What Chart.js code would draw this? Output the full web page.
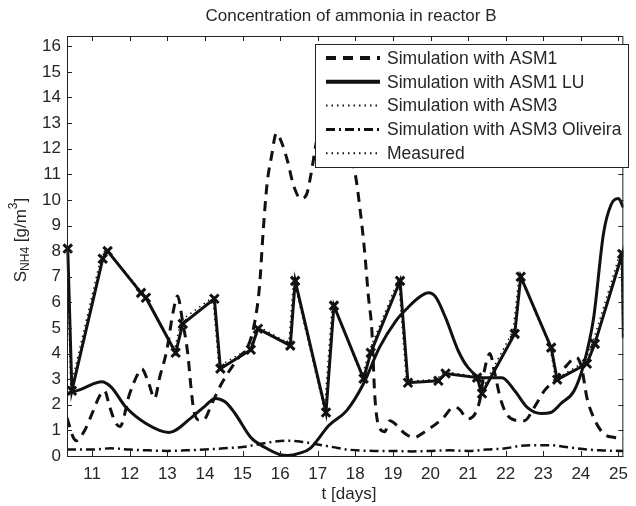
<!DOCTYPE html>
<html>
<head>
<meta charset="utf-8">
<script src="https://cdn.jsdelivr.net/npm/chart.js@4.4.1/dist/chart.umd.min.js"></script>
<style>
  html, body { margin: 0; padding: 0; background: #fff; }
  canvas { display: block; }
</style>
</head>
<body>
<canvas id="chart" width="636" height="506"></canvas>
<script>
const titleText = 'Concentration of ammonia in reactor B';
const xTicks = [11, 12, 13, 14, 15, 16, 17, 18, 19, 20, 21, 22, 23, 24, 25];
const yTicks = [0, 1, 2, 3, 4, 5, 6, 7, 8, 9, 10, 11, 12, 13, 14, 15, 16];
const seriesNames = ['Simulation with ASM1', 'Simulation with ASM1 LU', 'Simulation with ASM3',
  'Simulation with ASM3 Oliveira', 'Measured'];

// Simulation with ASM1 (dashed)
const asm1T = [10.33, 10.49, 10.58, 10.8, 11.01, 11.2, 11.33, 11.46, 11.62, 11.74, 11.99, 12.25, 12.32,
  12.5, 12.66, 12.8, 12.98, 13.15, 13.27, 13.4, 13.55, 13.62, 13.7, 13.85, 13.95, 14.2, 14.45, 14.9,
  15.15, 15.32, 15.45, 15.55, 15.65, 15.77, 15.9, 16.05, 16.2, 16.35, 16.55, 16.7, 16.82, 17.0, 17.4,
  17.8, 18.0, 18.12, 18.24, 18.35, 18.44, 18.52, 18.64, 18.78, 18.92, 19.1, 19.3, 19.56, 19.82, 20.32,
  20.62, 20.75, 21.0, 21.3, 21.45, 21.58, 21.7, 21.85, 22.0, 22.25, 22.5, 22.76, 23.03, 23.3, 23.6,
  23.88, 24.02, 24.16, 24.34, 24.6, 24.9, 25.13];
const asm1V = [1.5, 0.75, 0.6, 1.0, 1.7, 2.35, 2.55, 1.95, 1.3, 1.15, 2.4, 3.3, 3.4,
  2.85, 2.25, 3.1, 4.1, 5.6, 6.25, 5.3, 3.9, 2.8, 1.8, 1.4, 1.4, 2.1, 2.85, 3.85,
  4.3, 5.2, 6.6, 8.8, 10.6, 11.7, 12.6, 12.2, 11.5, 10.6, 10.05, 10.2, 11.0, 12.5, 13.2,
  12.2, 11.0, 9.7, 8.1, 6.2, 4.9, 2.3, 1.1, 0.95, 1.38, 1.2, 0.9, 0.72, 0.92, 1.46,
  1.9, 1.85, 1.45, 2.1, 3.45, 4.0, 3.3, 2.3, 1.7, 1.4, 1.38, 1.9, 2.55, 2.95, 3.5,
  3.85, 3.45, 2.28, 1.5, 0.88, 0.72, 0.68];

// Simulation with ASM1 LU (solid)
const luT = [10.33, 10.7, 11.0, 11.25, 11.5, 11.9, 12.43, 13.04, 13.64, 14.0, 14.27, 14.55, 14.8, 15.22,
  15.6, 16.0, 16.2, 16.5, 16.8, 17.3, 17.77, 18.22, 18.64, 19.08, 19.4, 19.7, 19.95, 20.14, 20.4, 20.74,
  21.0, 21.37, 21.9, 22.24, 22.58, 22.95, 23.2, 23.47, 23.82, 24.08, 24.34, 24.6, 24.8, 25.0, 25.13];
const luV = [2.44, 2.6, 2.8, 2.9, 2.7, 1.9, 1.27, 0.92, 1.5, 1.95, 2.25, 2.1, 1.66, 0.72,
  0.33, 0.05, 0.02, 0.1, 0.3, 1.2, 1.77, 2.83, 4.23, 5.28, 5.8, 6.2, 6.37, 6.2, 5.4, 4.1,
  3.45, 3.06, 3.06, 2.55, 1.89, 1.66, 1.7, 2.05, 2.55, 3.6, 5.4, 8.67, 9.8, 10.05, 9.7];

// Simulation with ASM3 (dotted, close to measured)
const asm3T = [10.33, 10.43, 11.24, 11.37, 12.26, 12.4, 13.18, 13.37, 14.21, 14.37, 15.18, 15.37, 16.23,
  16.36, 17.18, 17.39, 18.18, 18.37, 19.15, 19.36, 20.17, 20.36, 21.2, 21.33, 22.2, 22.36, 23.17, 23.33,
  24.12, 24.33, 25.06, 25.13];
const asm3V = [8.0, 2.7, 7.8, 8.1, 6.5, 6.3, 4.1, 5.3, 6.2, 3.5, 4.2, 5.1, 4.4,
  6.9, 1.8, 6.0, 3.1, 4.1, 6.9, 2.9, 3.0, 3.3, 3.1, 2.5, 4.9, 7.1, 4.3, 3.0,
  3.7, 4.5, 8.0, 4.6];

// Simulation with ASM3 Oliveira (dash-dot)
const olT = [10.33, 11.0, 11.5, 12.0, 12.5, 13.0, 13.5, 14.0, 14.5, 15.0, 15.4, 15.8, 16.2, 16.6, 17.0,
  17.4, 17.8, 18.5, 19.0, 19.5, 20.0, 20.5, 21.0, 21.5, 22.0, 22.4, 22.8, 23.2, 23.6, 24.0, 24.5, 25.13];
const olV = [0.25, 0.25, 0.3, 0.25, 0.22, 0.2, 0.22, 0.25, 0.3, 0.35, 0.45, 0.55, 0.6, 0.55, 0.45,
  0.35, 0.25, 0.2, 0.2, 0.18, 0.2, 0.22, 0.2, 0.25, 0.3, 0.4, 0.42, 0.42, 0.35, 0.28, 0.22, 0.2];

// Measured
const measT = [10.35, 10.46, 11.28, 11.41, 12.3, 12.43, 13.22, 13.41, 14.25, 14.41, 15.22, 15.41, 16.27,
  16.4, 17.22, 17.43, 18.22, 18.41, 19.19, 19.4, 20.21, 20.4, 21.24, 21.37, 22.24, 22.4, 23.21, 23.37,
  24.16, 24.37, 25.1, 25.13];
const measV = [8.1, 2.55, 7.7, 8.0, 6.37, 6.18, 4.03, 5.16, 6.14, 3.41, 4.15, 4.97, 4.31,
  6.84, 1.7, 5.87, 3.02, 4.03, 6.84, 2.86, 2.94, 3.22, 3.06, 2.44, 4.77, 7.0, 4.23, 2.98,
  3.6, 4.38, 7.89, 4.6];

const pts = (t, v) => t.map((x, i) => ({ x, y: v[i] }));
const FONT = '"Liberation Sans", Arial, sans-serif';
const INK = '#111';
const TEXT = '#262626';

const dashes = [[10, 7], [], [1.5, 4], [9, 4, 2, 4], [1.5, 4]];
const widths = [3, 3, 1.5, 2.5, 1.5];

const frame = {
  id: 'frame',
  afterDatasetsDraw(chart) {
    const { ctx, chartArea: a, scales: { x, y } } = chart;
    ctx.save();
    ctx.strokeStyle = '#222';
    ctx.lineWidth = 1;
    ctx.setLineDash([]);
    ctx.strokeRect(a.left + 0.5, a.top + 0.5, a.right - a.left - 1, a.bottom - a.top);
    ctx.beginPath();
    xTicks.forEach(t => {
      const px = Math.round(x.getPixelForValue(t)) + 0.5;
      ctx.moveTo(px, a.bottom); ctx.lineTo(px, a.bottom - 5);
      ctx.moveTo(px, a.top); ctx.lineTo(px, a.top + 5);
    });
    yTicks.forEach(v => {
      const py = Math.round(y.getPixelForValue(v)) + 0.5;
      ctx.moveTo(a.left, py); ctx.lineTo(a.left + 5, py);
      ctx.moveTo(a.right, py); ctx.lineTo(a.right - 5, py);
    });
    ctx.stroke();

    // legend box
    const lx = 315, ly = 44, lw = 313, lh = 123;
    ctx.fillStyle = '#fff';
    ctx.fillRect(lx, ly, lw, lh);
    ctx.strokeStyle = '#222';
    ctx.strokeRect(lx + 0.5, ly + 0.5, lw, lh);
    ctx.font = '17.5px ' + FONT;
    ctx.textBaseline = 'middle';
    ctx.textAlign = 'left';
    seriesNames.forEach((name, i) => {
      const ry = 58 + i * 23.8;
      ctx.beginPath();
      ctx.strokeStyle = INK;
      ctx.lineWidth = i < 2 ? 4 : widths[i] + 0.5;
      ctx.setLineDash(dashes[i]);
      ctx.moveTo(326, ry); ctx.lineTo(380, ry);
      ctx.stroke();
      ctx.setLineDash([]);
      ctx.fillStyle = TEXT;
      ctx.fillText(name, 387, ry + 1);
    });

    // title
    ctx.textAlign = 'center';
    ctx.font = '17px ' + FONT;
    ctx.fillText(titleText, 351, 16);

    // x title
    ctx.fillText('t [days]', 349, 494);

    // y title with sub/superscript
    ctx.translate(21, 240);
    ctx.rotate(-Math.PI / 2);
    const parts = [['S', 17, 0], ['NH4', 12, 5], [' [g/m', 17, 0], ['3', 12, -7], [']', 17, 0]];
    let total = 0;
    parts.forEach(p => { ctx.font = p[1] + 'px ' + FONT; total += ctx.measureText(p[0]).width; });
    let cx = -total / 2;
    ctx.textAlign = 'left';
    parts.forEach(p => {
      ctx.font = p[1] + 'px ' + FONT;
      ctx.fillText(p[0], cx, p[2]);
      cx += ctx.measureText(p[0]).width;
    });
    ctx.restore();
  }
};

const lineSet = (data, i, extra) => Object.assign({
  data, label: seriesNames[i], borderColor: INK, borderWidth: widths[i],
  borderDash: dashes[i], pointRadius: 0, fill: false,
  cubicInterpolationMode: 'monotone', tension: 0.4
}, extra || {});

new Chart(document.getElementById('chart'), {
  type: 'line',
  data: {
    datasets: [
      lineSet(pts(olT, olV), 3),
      lineSet(pts(asm1T, asm1V), 0),
      lineSet(pts(luT, luV), 1),
      lineSet(pts(asm3T, asm3V), 2, { tension: 0, cubicInterpolationMode: 'default' }),
      lineSet(pts(measT, measV), 4, {
        borderDash: [], borderWidth: 3, tension: 0, cubicInterpolationMode: 'default',
        pointStyle: 'crossRot', pointBorderWidth: 3, pointBorderColor: INK,
        pointRadius: ctx => ctx.dataIndex === measT.length - 1 ? 0 : 6,
        clip: { left: 8, right: 0, top: 0, bottom: 0 }
      })
    ]
  },
  options: {
    responsive: false,
    animation: false,
    layout: { padding: { left: 0, right: 6, top: 36, bottom: 0 } },
    plugins: { legend: { display: false }, title: { display: false }, tooltip: { enabled: false } },
    scales: {
      x: {
        type: 'linear', min: 10.33, max: 25.13,
        grid: { display: false, drawTicks: false },
        border: { display: false },
        afterFit: s => { s.height = 50; },
        afterBuildTicks: s => { s.ticks = xTicks.map(v => ({ value: v })); },
        ticks: { color: TEXT, font: { family: FONT, size: 17 }, padding: 8, maxRotation: 0,
          autoSkip: false }
      },
      y: {
        type: 'linear', min: 0, max: 16.4,
        grid: { display: false, drawTicks: false },
        border: { display: false },
        afterFit: s => { s.width = 67; },
        afterBuildTicks: s => { s.ticks = yTicks.map(v => ({ value: v })); },
        ticks: { color: TEXT, font: { family: FONT, size: 17 }, padding: 6, autoSkip: false }
      }
    }
  },
  plugins: [frame]
});
</script>
</body>
</html>
